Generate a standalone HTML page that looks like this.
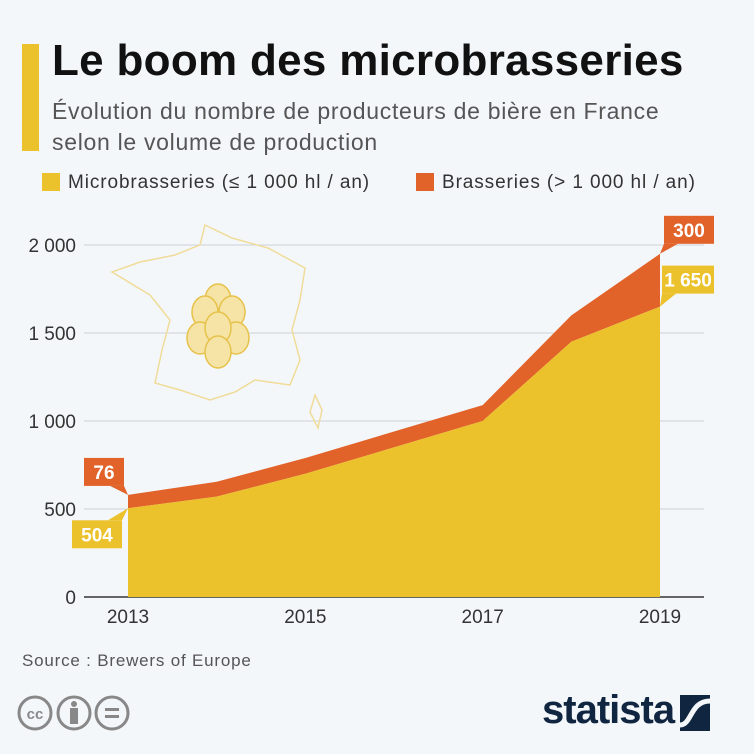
<!DOCTYPE html>
<html><head><meta charset="utf-8"><style>
body{margin:0;width:754px;height:754px;background:#f4f7fa;font-family:"Liberation Sans",sans-serif;position:relative;overflow:hidden}
.a{position:absolute;white-space:nowrap}
</style></head><body>
<div class="a" style="left:22px;top:44px;width:17px;height:107px;background:#ecc22c"></div>
<div class="a" style="left:52px;top:36px;font-size:44px;font-weight:bold;color:#111;letter-spacing:0.3px">Le boom des microbrasseries</div>
<div class="a" style="left:52px;top:96px;font-size:23px;color:#555;line-height:31px;letter-spacing:0.7px">Évolution du nombre de producteurs de bière en France<br>selon le volume de production</div>
<div class="a" style="left:42px;top:172px;font-size:19px;color:#333;letter-spacing:0.9px"><span style="display:inline-block;width:18px;height:18px;background:#ecc22c;vertical-align:-3px;margin-right:8px"></span>Microbrasseries (≤ 1 000 hl / an)</div>
<div class="a" style="left:416px;top:172px;font-size:19px;color:#333;letter-spacing:0.9px"><span style="display:inline-block;width:18px;height:18px;background:#e2632a;vertical-align:-3px;margin-right:8px"></span>Brasseries (&gt; 1 000 hl / an)</div>
<svg class="a" style="left:0;top:0" width="754" height="754" id="chart"></svg>
<div class="a" style="left:22px;top:651px;font-size:17px;color:#555;letter-spacing:0.8px">Source : Brewers of Europe</div>
<svg class="a" style="left:14px;top:694px" width="140" height="40">
<g fill="none" stroke="#888" stroke-width="3"><circle cx="21" cy="19" r="16"/><circle cx="60" cy="19" r="16"/><circle cx="98" cy="19" r="16"/></g>
<text x="21" y="25" text-anchor="middle" font-size="15" font-weight="bold" fill="#888">cc</text>
<circle cx="60" cy="10" r="3" fill="#888"/><rect x="56" y="14" width="8" height="16" fill="#888"/>
<rect x="91" y="14" width="14" height="3" fill="#888"/><rect x="91" y="21" width="14" height="3" fill="#888"/></svg>
<div class="a" style="left:542px;top:688px;font-size:40px;font-weight:bold;color:#0f2540;letter-spacing:-1px">statista</div>
<svg class="a" style="left:680px;top:695px" width="30" height="36"><rect width="30" height="36" fill="#0f2540"/><path d="M0 30 C12 30 10 6 30 6" stroke="#f4f7fa" stroke-width="5" fill="none"/></svg>
<script>
const years=[2013,2014,2015,2016,2017,2018,2019];
const micro=[504,570,700,850,1000,1450,1650];
const brasseries=[76,85,90,90,90,150,300];
const yTicks=[0,500,1000,1500,2000];
const yTickLabels=["0","500","1 000","1 500","2 000"];
const xTickLabels=["2013","2015","2017","2019"];
const svg=document.getElementById('chart');
const NS='http://www.w3.org/2000/svg';
const xs=v=>128+(v-2013)*(660-128)/6;
const ys=v=>597-v*(597-245)/2000;
function mk(t,a){const e=document.createElementNS(NS,t);for(const k in a)e.setAttribute(k,a[k]);svg.appendChild(e);return e;}
yTicks.forEach((t,i)=>{
 const l=mk('line',{x1:84,x2:704,y1:ys(t),y2:ys(t),stroke:t?'#ccd2d8':'#333','stroke-width':t?1:1.5});
 
 
 const tx=mk('text',{x:76,y:ys(t)+7,'text-anchor':'end','font-size':19,fill:'#333'});
 tx.textContent=yTickLabels[i];
 
 
});
xTickLabels.forEach(s=>{
 const tx=mk('text',{x:xs(+s),y:623,'text-anchor':'middle','font-size':19,fill:'#333'});
 tx.textContent=s;
 
 
});
const map=mk('path',{d:'M205 225 L232 238 L268 248 L305 268 L300 300 L292 330 L300 360 L290 385 L255 380 L235 392 L210 400 L180 390 L155 383 L162 350 L170 320 L150 295 L112 272 L140 262 L175 255 L200 245 Z',fill:'none',stroke:'#f0dc9a','stroke-width':1.5});


const cor=mk('path',{d:'M315 395 L322 410 L318 428 L310 412 Z',fill:'none',stroke:'#f0dc9a','stroke-width':1.5});


const hop=mk('g',{});


[[218,300],[205,312],[232,312],[200,338],[236,338],[218,328],[218,352]].forEach(p=>{
 const e=document.createElementNS(NS,'ellipse');
 e.setAttribute('cx',p[0]);e.setAttribute('cy',p[1]);e.setAttribute('rx',13);e.setAttribute('ry',16);
 e.setAttribute('fill','#f6e3a6');e.setAttribute('stroke','#e6c24a');e.setAttribute('stroke-width',1.5);
 hop.appendChild(e);
});
const topPts=years.map((yr,i)=>xs(yr)+','+ys(micro[i]+brasseries[i])).join(' ');
const midPts=years.map((yr,i)=>xs(yr)+','+ys(micro[i])).join(' ');
const midRev=years.map((yr,i)=>xs(yr)+','+ys(micro[i])).reverse().join(' ');
const a2=mk('polygon',{points:topPts+' '+midRev,fill:'#e2632a'});


const a1=mk('polygon',{points:midPts+' '+xs(2019)+','+ys(0)+' '+xs(2013)+','+ys(0),fill:'#ecc22c'});


function label(px,py,bx,by,w,txt,col,name){
 const g=mk('g',{});
 
 
 const r=document.createElementNS(NS,'rect');
 r.setAttribute('x',bx);r.setAttribute('y',by);r.setAttribute('width',w);r.setAttribute('height',28);r.setAttribute('fill',col);g.appendChild(r);
 const p=document.createElementNS(NS,'polygon');
 const cx=bx+(px>bx+w/2?w-7:7);
 const ey=py<by?by:by+28;
 p.setAttribute('points',(cx-7)+','+ey+' '+(cx+7)+','+ey+' '+px+','+py);
 p.setAttribute('fill',col);g.appendChild(p);
 const t=document.createElementNS(NS,'text');
 t.setAttribute('x',bx+w/2);t.setAttribute('y',by+21);t.setAttribute('text-anchor','middle');
 t.setAttribute('font-size',19);t.setAttribute('font-weight','bold');t.setAttribute('fill','#fff');
 t.textContent=txt;g.appendChild(t);
}
const n=years.length-1;
const fmt=v=>String(v).replace(/\B(?=(\d{3})+(?!\d))/g,' ');
label(xs(2013),ys(micro[0]+brasseries[0]),84,ys(micro[0]+brasseries[0])-37,40,fmt(brasseries[0]),'#e2632a','label-brasseries-2013');
label(xs(2013),ys(micro[0]),72,ys(micro[0])+12,50,fmt(micro[0]),'#ecc22c','label-micro-2013');
label(xs(2019),ys(micro[n]+brasseries[n]),664,ys(micro[n]+brasseries[n])-38,50,fmt(brasseries[n]),'#e2632a','label-brasseries-2019');
label(xs(2019),ys(micro[n]),662,ys(micro[n])-41,52,fmt(micro[n]),'#ecc22c','label-micro-2019');
</script>
</body></html>
